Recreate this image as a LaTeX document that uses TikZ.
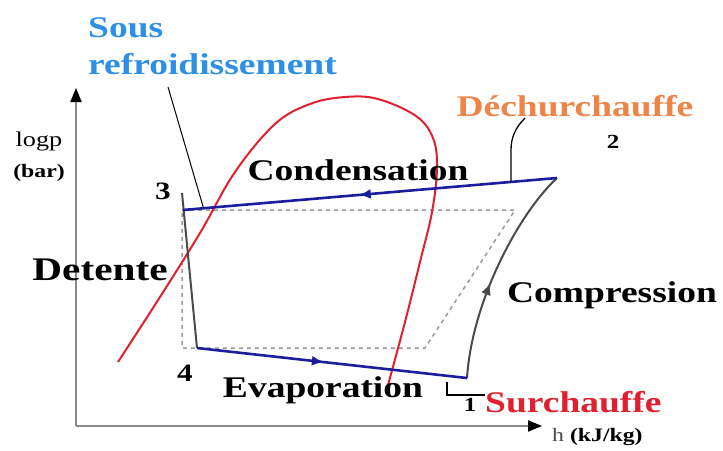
\documentclass[tikz,border=0pt]{standalone}
\usepackage{fontspec}
\setmainfont{Liberation Serif}
\newfontfamily\etirefont[FakeStretch=1.25]{Liberation Serif}
\usetikzlibrary{
    positioning,
    calc,
    arrows.meta,
    decorations.markings
}
\definecolor{BleuFonce}{HTML}{1C1C9E}
\definecolor{BleuCiel}{HTML}{2E8FE6}
\definecolor{OrangeDoux}{HTML}{EE8548}
\definecolor{RougeVif}{HTML}{E0202E}
\definecolor{GrisAxe}{HTML}{8A8A8A}
\definecolor{GrisCycle}{HTML}{4A4A4A}
\definecolor{GrisPointille}{HTML}{9A9A9A}

\tikzset{
    etiquette/.style={inner sep=0pt, font=\etirefont\fontsize{30}{32}\selectfont\bfseries},
    petite/.style={inner sep=0pt, font=\etirefont\fontsize{21}{23}\selectfont},
    axe/.style={draw=GrisAxe, line width=2pt, -{Triangle[length=14pt,width=11pt,color=black]}},
    ligneBleue/.style={draw=BleuFonce, line width=2.6pt},
    ligneGrise/.style={draw=GrisCycle, line width=2pt},
    fleche milieu/.style={postaction={decorate}, decoration={markings,
        mark=at position #1 with {\arrow{Latex[length=12pt,width=10pt]}}}}
}

\begin{document}
\begin{tikzpicture}[x=1pt, y=-1pt]

    \useasboundingbox (0,0) rectangle (723,450);

    \coordinate (o) at (76,426);
    \coordinate (xfin) at (542,426);
    \coordinate (yfin) at (76,88);
    \coordinate (p1) at (467,378);
    \coordinate (p2) at (557,178);
    \coordinate (p3) at (183,210);
    \coordinate (p4) at (197,348);
    \coordinate (d3) at (182,193);

    \draw[axe] (o) -- (xfin);
    \draw[axe] (o) -- (yfin);

    \draw[GrisPointille, line width=1.5pt, dash pattern=on 4pt off 4pt]
        (182,210) -- (515,210) -- (425,348) -- (182,348) -- cycle;

    \draw[RougeVif, line width=2pt] plot[smooth, tension=0.6] coordinates {
        (118,362) (160,297) (200,233) (235,172) (275,124) (310,104) (345,97)
        (378,99) (416,116) (433,138) (437,168) (432,212) (420,262) (405,322) (388,385)};

    \draw[ligneGrise] (d3) -- (p4);
    \draw[ligneGrise, fleche milieu=0.44] (p1) .. controls (472,300) and (520,212) .. (p2);
    \draw[ligneBleue, fleche milieu=0.53] (p2) -- (p3);
    \draw[ligneBleue, fleche milieu=0.47] (p4) -- (p1);

    \node[petite] (logp) at (39,141) {logp};
    \node[petite, font=\etirefont\fontsize{19}{21}\selectfont\bfseries] (bar) at (39,173) {(bar)};
    \node[petite, font=\etirefont\fontsize{19}{21}\selectfont, anchor=west] (h) at (552,437) {{\color{GrisCycle}h} \textbf{(kJ/kg)}};

    \node[etiquette, BleuCiel, anchor=west] (sous) at (88,28) {Sous};
    \node[etiquette, BleuCiel, anchor=west] (refroid) at (88,64) {refroidissement};
    \node[etiquette, OrangeDoux] (dechurch) at (575,106) {Déchurchauffe};
    \node[etiquette] (condens) at (358,170) {Condensation};
    \node[etiquette] (compress) at (612,295) {Compression};
    \node[etiquette, font=\etirefont\fontsize{33}{35}\selectfont\bfseries] (detente) at (100,270) {Detente};
    \node[etiquette] (evap) at (323,390) {Evaporation};
    \node[etiquette, RougeVif, anchor=west] (surch) at (485,402) {Surchauffe};

    \node[etiquette, font=\etirefont\fontsize{25}{27}\selectfont\bfseries] (n3) at (163,191) {3};
    \node[etiquette, font=\etirefont\fontsize{25}{27}\selectfont\bfseries] (n4) at (185,373) {4};
    \node[etiquette, font=\etirefont\fontsize{20}{22}\selectfont\bfseries] (n2) at (613,142) {2};
    \node[etiquette, font=\etirefont\fontsize{20}{22}\selectfont\bfseries] (n1) at (470,405) {1};

    \coordinate (bout3) at (168,87);
    \coordinate (bout2) at (525,118);
    \coordinate (bout1) at (447,382);
    \coordinate (coude1) at (447,395);
    \draw[line width=1pt] (bout3) -- ($(p3)!0.055!(p2)$);
    \draw[line width=1.3pt] (bout2) .. controls (515,128) and (511,138) .. (511,150)
        -- ($(p3)!0.877!(p2)$);
    \draw[line width=2pt] (bout1) -- (coude1) -- (coude1 -| surch.west);

\end{tikzpicture}
\end{document}
